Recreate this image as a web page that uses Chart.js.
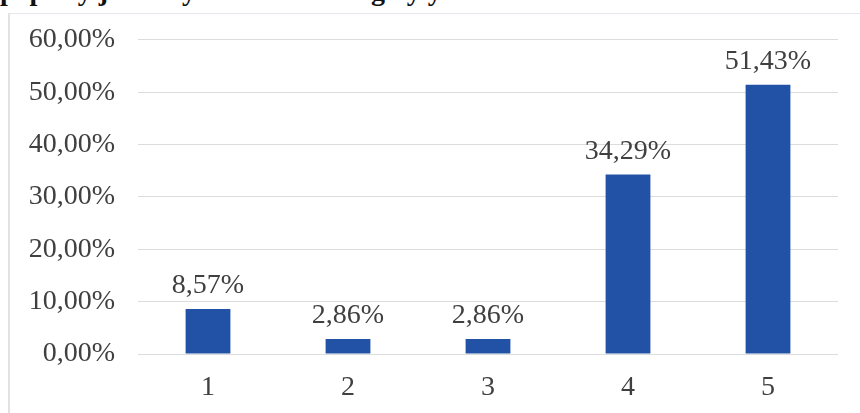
<!DOCTYPE html>
<html lang="pl">
<head>
  <meta charset="UTF-8"/>
  <title>Oceny</title>
  <style>
    * { box-sizing: border-box; }
    body { margin: 0; background: #fff; width: 860px; height: 413px; overflow: hidden; position: relative; }
    .caption {
      position: absolute; top: -25px; left: 0; white-space: pre;
      font: bold 28px "Liberation Serif", serif; color: #111;
    }
    .frame {
      position: absolute; left: 8px; top: 13px; width: 900px; height: 450px;
      border-left: 2px solid #e2e2e2; border-top: 1px solid #e6e6f0;
    }
    #chart { position: absolute; left: 0; top: 0; }
  </style>
  <script src="https://cdn.jsdelivr.net/npm/chart.js"></script>
</head>
<body>
  <div class="caption">popsały jakość y                         gały y</div>
  <div class="frame"></div>
  <canvas id="chart" width="860" height="413"></canvas>

  <script>
    const categories = ['1', '2', '3', '4', '5'];
    const shares = [8.57, 2.86, 2.86, 34.29, 51.43];
    const yTicks = [0, 10, 20, 30, 40, 50, 60];

    const fmt = v => v.toFixed(2).replace('.', ',') + '%';
    const serif = '"Liberation Serif", "Times New Roman", serif';

    // value labels above bars
    const barLabels = {
      id: 'barLabels',
      afterDatasetsDraw(chart) {
        const ctx = chart.ctx;
        const meta = chart.getDatasetMeta(0);
        ctx.save();
        ctx.font = '28px ' + serif;
        ctx.fillStyle = '#404040';
        ctx.textAlign = 'center';
        ctx.textBaseline = 'bottom';
        meta.data.forEach((bar, i) => {
          ctx.fillText(fmt(shares[i]), bar.x, bar.y - 9);
        });
        ctx.restore();
      }
    };

    new Chart(document.getElementById('chart'), {
      type: 'bar',
      data: {
        labels: categories,
        datasets: [{
          data: shares,
          backgroundColor: '#2152a6',
          barPercentage: 0.32,
          categoryPercentage: 1
        }]
      },
      options: {
        responsive: false,
        animation: false,
        layout: { padding: { top: 38, right: 22, bottom: 0, left: 0 } },
        scales: {
          x: {
            afterFit: s => { s.height = 59; },
            grid: { display: false },
            border: { display: false },
            ticks: { color: '#404040', font: { family: serif, size: 28 }, padding: 9 }
          },
          y: {
            min: 0, max: 60,
            afterBuildTicks: s => { s.ticks = yTicks.map(v => ({ value: v })); },
            afterFit: s => { s.width = 138; },
            grid: { color: '#dcdcdc', drawTicks: false },
            border: { display: false },
            ticks: { color: '#404040', font: { family: serif, size: 28 }, padding: 23, callback: v => fmt(v) }
          }
        },
        plugins: { legend: { display: false }, tooltip: { enabled: false } }
      },
      plugins: [barLabels]
    });
  </script>
</body>
</html>
